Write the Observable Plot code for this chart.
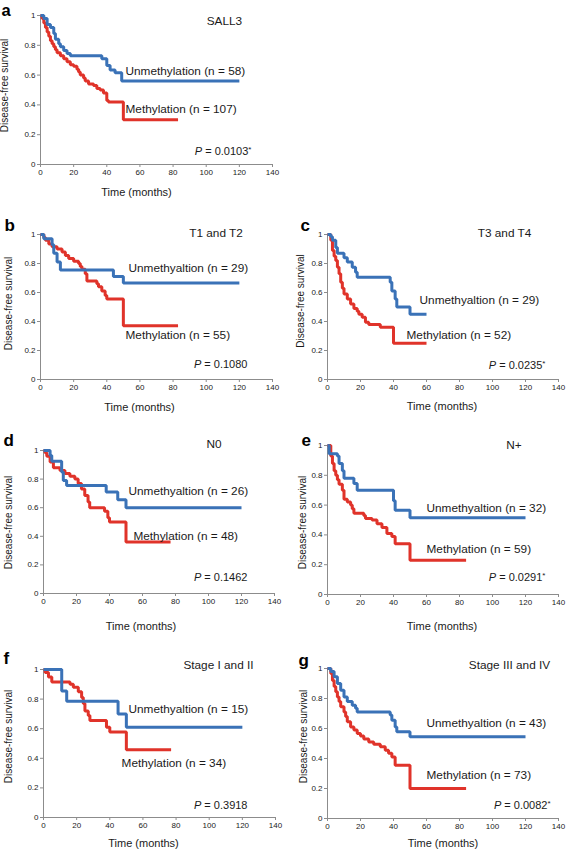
<!DOCTYPE html>
<html><head><meta charset="utf-8">
<script src="https://cdn.jsdelivr.net/npm/d3@7"></script>
<script src="https://cdn.jsdelivr.net/npm/@observablehq/plot@0.6"></script>
<style>
body{margin:0;background:#fff;}
#chart{position:relative;width:566px;height:849px;background:#fff;overflow:hidden;font-family:"Liberation Sans",Arial,Helvetica,sans-serif;}
#chart svg{position:absolute;overflow:visible;}
#chart svg g[aria-label="x-axis"] line, #chart svg g[aria-label="y-axis"] line,
#chart svg [aria-label$="axis tick"] path {stroke:#8c8c8c;}
</style></head><body><div id="chart"></div>
<script>
// ---- text content ----
const panelIds = ["a","b","c","d","e","f","g"];
const panelTitles = ["SALL3","T1 and T2","T3 and T4","N0","N+","Stage I and II","Stage III and IV"];
const unmethLabels = ["Unmethylation (n = 58)","Unmethyaltion (n = 29)","Unmethyaltion (n = 29)","Unmethyaltion (n = 26)","Unmethyaltion (n = 32)","Unmethyaltion (n = 15)","Unmethyaltion (n = 43)"];
const methLabels = ["Methylation (n = 107)","Methylation (n = 55)","Methylation (n = 52)","Methylation (n = 48)","Methylation (n = 59)","Methylation (n = 34)","Methylation (n = 73)"];
const pValues = ["0.0103*","0.1080","0.0235*","0.1462","0.0291*","0.3918","0.0082*"];
const xTicks = [0,20,40,60,80,100,120,140];
const yTicks = [0,0.2,0.4,0.6,0.8,1];
const xLabel = "Time (months)";
const yLabel = "Disease-free survival";

// ---- survival curves: [months, survival] steps ----
const aUnmeth = [[0,1],[2,0.98],[4,0.94],[6,0.92],[8,0.88],[9,0.84],[11,0.81],[12,0.79],[14,0.765],[16,0.745],[18,0.73],[37,0.71],[40,0.665],[42,0.635],[45,0.615],[49,0.56],[120,0.56]];
const aMeth = [[0,1],[1,0.98],[2,0.95],[3,0.92],[4,0.89],[5,0.86],[6,0.83],[7,0.81],[8,0.79],[9,0.77],[10,0.75],[12,0.73],[14,0.71],[16,0.69],[18,0.67],[20,0.66],[22,0.64],[23,0.62],[24,0.60],[26,0.58],[27,0.56],[29,0.54],[32,0.53],[34,0.51],[36,0.50],[38,0.48],[40,0.43],[41,0.42],[50,0.30],[83,0.30]];
const bUnmeth = [[0,1],[2,0.97],[7,0.93],[8,0.87],[10,0.81],[12,0.756],[44,0.71],[50,0.665],[120,0.665]];
const bMeth = [[0,1],[2,0.98],[3,0.96],[5,0.935],[7,0.915],[10,0.90],[13,0.88],[15,0.855],[17,0.835],[20,0.815],[23,0.80],[24,0.78],[25,0.76],[27,0.73],[28,0.68],[34,0.66],[35,0.64],[37,0.61],[39,0.58],[40,0.555],[50,0.37],[83,0.37]];
const cUnmeth = [[0,1],[2,0.985],[3,0.96],[5,0.91],[6,0.87],[10,0.84],[12,0.81],[15,0.775],[17,0.74],[18,0.705],[38,0.67],[39,0.61],[41,0.555],[42,0.50],[50,0.45],[60,0.45]];
const cMeth = [[0,1],[2,0.96],[3,0.89],[4,0.85],[5,0.82],[6,0.775],[7,0.73],[8,0.67],[9,0.63],[10,0.59],[12,0.556],[14,0.52],[16,0.49],[18,0.47],[19,0.45],[21,0.43],[23,0.395],[25,0.38],[32,0.36],[40,0.25],[60,0.25]];
const dUnmeth = [[0,1],[4,0.965],[5,0.925],[11,0.85],[12,0.79],[14,0.755],[38,0.71],[45,0.655],[50,0.60],[120,0.60]];
const dMeth = [[0,1],[1,0.985],[2,0.96],[4,0.92],[6,0.88],[10,0.86],[13,0.84],[16,0.82],[19,0.80],[21,0.77],[23,0.73],[25,0.685],[27,0.64],[28,0.60],[37,0.575],[39,0.53],[40,0.50],[50,0.36],[77,0.36]];
const eUnmeth = [[0,1],[1,0.945],[6,0.93],[7,0.88],[9,0.83],[10,0.78],[16,0.745],[18,0.70],[40,0.63],[41,0.565],[50,0.515],[120,0.515]];
const eMeth = [[0,1],[2,0.93],[3,0.88],[4,0.83],[5,0.80],[6,0.77],[7,0.74],[9,0.70],[10,0.64],[12,0.62],[14,0.60],[15,0.575],[16,0.545],[22,0.53],[23,0.51],[27,0.50],[30,0.475],[33,0.45],[36,0.41],[39,0.39],[41,0.34],[50,0.23],[84,0.23]];
const fUnmeth = [[0,1],[11,0.855],[14,0.786],[45,0.70],[50,0.61],[120,0.61]];
const fMeth = [[0,1],[1,0.98],[3,0.95],[5,0.915],[16,0.90],[18,0.88],[21,0.85],[23,0.81],[24,0.77],[25,0.72],[27,0.69],[28,0.656],[38,0.61],[40,0.578],[50,0.458],[77,0.458]];
const gUnmeth = [[0,1],[2,0.98],[4,0.945],[6,0.90],[8,0.855],[10,0.81],[12,0.78],[15,0.755],[17,0.735],[18,0.71],[38,0.69],[39,0.655],[41,0.61],[42,0.578],[50,0.545],[120,0.545]];
const gMeth = [[0,1],[2,0.967],[3,0.92],[4,0.88],[5,0.845],[6,0.81],[7,0.78],[8,0.745],[10,0.71],[11,0.68],[12,0.645],[14,0.61],[16,0.59],[18,0.567],[20,0.55],[22,0.53],[25,0.51],[28,0.495],[32,0.478],[35,0.455],[37,0.435],[39,0.41],[41,0.355],[50,0.20],[84,0.20]];

const unmethCurves = [aUnmeth,bUnmeth,cUnmeth,dUnmeth,eUnmeth,fUnmeth,gUnmeth];
const methCurves = [aMeth,bMeth,cMeth,dMeth,eMeth,fMeth,gMeth];

// ---- layout (positions, sizes) ----
const layout = [
 {left:0,  top:0,   width:283,height:205,ml:40,mr:11,mt:15,mb:41,title:[111,0.96], unmeth:[51.3,0.624],meth:[51.3,0.369],p:[127.3,0.087],letter:[-39,0],xlab:[-20,28],ylab:[-36,-4.5],letterSize:16.5},
 {left:0,  top:210, width:283,height:205,ml:40,mr:11,mt:24,mb:36,title:[105.9,1.007],unmeth:[53.1,0.766],meth:[51.3,0.303],p:[124.9,0.103],letter:[-36,-4],xlab:[-17,28],ylab:[-32,-3.5],letterSize:17},
 {left:283,top:210, width:283,height:205,ml:44,mr:8, mt:24,mb:36,title:[107.3,1.007],unmeth:[55.8,0.545],meth:[47.9,0.303],p:[132.1,0.097],letter:[-27,-4],xlab:[-1,27],ylab:[-27,-6],letterSize:17},
 {left:0,  top:420, width:283,height:215,ml:43,mr:9, mt:30,mb:42,title:[103.3,1.042],unmeth:[51.5,0.713],meth:[54.5,0.399],p:[123.6,0.112],letter:[-40,-5],xlab:[-18,33],ylab:[-35,0.5],letterSize:17},
 {left:283,top:420, width:283,height:215,ml:44,mr:8, mt:25,mb:41,title:[113,1.0],   unmeth:[60,0.577], meth:[60,0.302], p:[132.1,0.114],letter:[-26,0], xlab:[-1,32],ylab:[-25,2.5],letterSize:17},
 {left:0,  top:635, width:283,height:214,ml:43,mr:8, mt:34,mb:32,title:[105.6,1.027],unmeth:[51.3,0.73], meth:[47.1,0.365],p:[123.1,0.081],letter:[-40,-6],xlab:[-16,26],ylab:[-35,-7],letterSize:17},
 {left:283,top:635, width:283,height:214,ml:44,mr:8, mt:33,mb:31,title:[110.3,1.02], unmeth:[60,0.633], meth:[60,0.287], p:[135.2,0.087],letter:[-29,-3],xlab:[0,25], ylab:[-24,-7],letterSize:17}
];

const FONT = '"Liberation Sans", Arial, Helvetica, sans-serif';
const BLUE = "#3a72b7", RED = "#e0332a", AXIS = "#8c8c8c", INK = "#1a1a1a";
const LABEL_SIZE = 11.8;
const chart = document.getElementById("chart");

panelIds.forEach((id, i) => {
  const L = layout[i];
  const unmeth = unmethCurves[i].map(([t, s]) => ({t, s}));
  const meth = methCurves[i].map(([t, s]) => ({t, s}));
  const lineOpts = {x: "t", y: "s", curve: "step-after", strokeWidth: 3, strokeLinejoin: "miter", strokeLinecap: "butt"};
  const svg = Plot.plot({
    width: L.width, height: L.height,
    marginLeft: L.ml, marginRight: L.mr, marginTop: L.mt, marginBottom: L.mb,
    style: {fontFamily: FONT, fontSize: "8px", color: "#222", background: "transparent", overflow: "visible"},
    x: {domain: [0, 140], ticks: xTicks, tickSize: 3, tickPadding: 2, tickFormat: d => String(d), label: null},
    y: {domain: [0, 1], ticks: yTicks, tickSize: 3, tickPadding: 2, tickFormat: d => String(d), label: null},
    marks: [
      Plot.ruleY([0], {stroke: AXIS, strokeWidth: 1}),
      Plot.ruleX([0], {stroke: AXIS, strokeWidth: 1}),
      Plot.line(meth, {...lineOpts, stroke: RED}),
      Plot.line(unmeth, {...lineOpts, stroke: BLUE}),
      Plot.text([panelTitles[i]], {x: L.title[0], y: L.title[1], text: d => d, fontSize: LABEL_SIZE, textAnchor: "middle", lineAnchor: "middle", fill: INK}),
      Plot.text([unmethLabels[i]], {x: L.unmeth[0], y: L.unmeth[1], text: d => d, fontSize: LABEL_SIZE, textAnchor: "start", lineAnchor: "middle", fill: INK}),
      Plot.text([methLabels[i]], {x: L.meth[0], y: L.meth[1], text: d => d, fontSize: LABEL_SIZE, textAnchor: "start", lineAnchor: "middle", fill: INK}),
      Plot.text(["P = " + pValues[i]], {x: L.p[0], y: L.p[1], text: d => d, fontSize: 11, textAnchor: "end", lineAnchor: "middle", fill: INK}),
      Plot.text([xLabel], {frameAnchor: "bottom", dx: L.xlab[0], dy: L.xlab[1], text: d => d, fontSize: 11, textAnchor: "middle", lineAnchor: "middle", fill: INK}),
      Plot.text([yLabel], {frameAnchor: "left", rotate: -90, dx: L.ylab[0], dy: L.ylab[1], text: d => d, fontSize: 10, textAnchor: "middle", lineAnchor: "middle", fill: INK}),
      Plot.text([id], {frameAnchor: "top-left", dx: L.letter[0], dy: L.letter[1], text: d => d, fontSize: L.letterSize, fontWeight: "bold", textAnchor: "start", lineAnchor: "bottom", fill: "#000"})
    ]
  });
  svg.style.left = L.left + "px";
  svg.style.top = L.top + "px";
  // italic P and superscript asterisk
  d3.select(svg).selectAll("text").filter(function() { return this.textContent.startsWith("P = "); })
    .each(function() {
      const txt = this.textContent;
      const val = txt.slice(4);
      const star = val.endsWith("*");
      const num = star ? val.slice(0, -1) : val;
      const t = d3.select(this);
      t.text(null);
      t.append("tspan").attr("font-style", "italic").text("P");
      t.append("tspan").text(" = " + num);
      if (star) t.append("tspan").attr("dy", "-0.35em").attr("font-size", "8px").text("*");
    });
  chart.appendChild(svg);
});
</script>
</body></html>
